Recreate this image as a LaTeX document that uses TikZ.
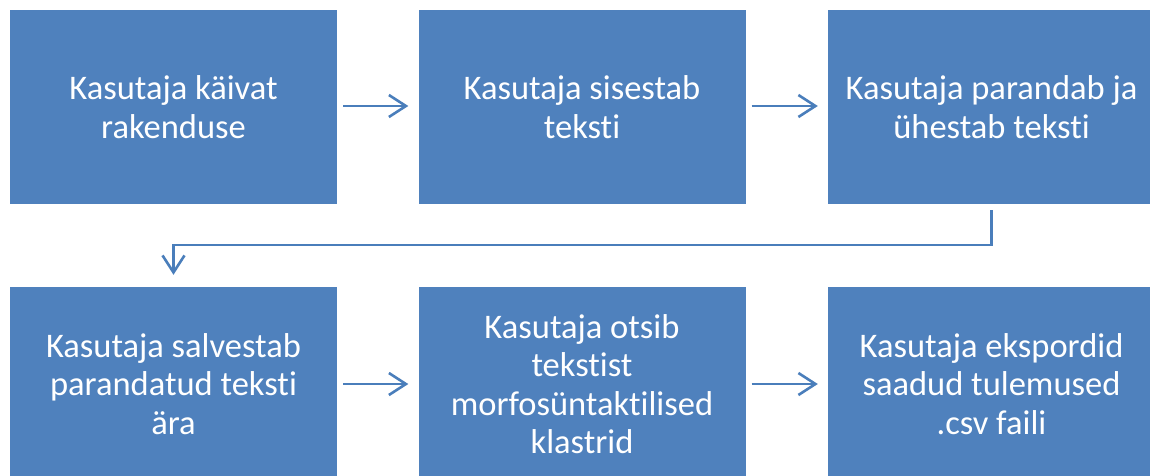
\documentclass[tikz,border=0pt]{standalone}
\usepackage{fontspec}
\setmainfont{Carlito}[Ligatures=NoCommon]
\usetikzlibrary{arrows.meta}
\definecolor{boxblue}{HTML}{4F81BD}
\definecolor{arrowblue}{HTML}{4A7EBB}
\tikzset{
  stepbox/.style={fill=boxblue, draw=none, minimum width=327pt, minimum height=194pt, inner sep=0pt,
    text=white, align=center, font=\fontsize{34.5}{38.5}\selectfont},
  flow/.style={draw=arrowblue, line width=2.6pt, -{Straight Barb[length=17pt,width=22pt,line width=2.6pt]}}
}
\begin{document}
\begin{tikzpicture}[x=1pt,y=-1pt]
\useasboundingbox (0,0) rectangle (1150,475);
\clip (0,0) rectangle (1150,475);
\node[stepbox] (b1) at (173.5,107) {Kasutaja käivat\\rakenduse};
\node[stepbox] (b2) at (582,107) {Kasutaja sisestab\\teksti};
\node[stepbox] (b3) at (991.5,107) {Kasutaja parandab ja\\ühestab teksti};
\node[stepbox] (b4) at (173.5,384) {Kasutaja salvestab\\parandatud teksti\\ära};
\node[stepbox] (b5) at (582,384) {Kasutaja otsib\\tekstist\\morfosüntaktilised\\klastrid};
\node[stepbox] (b6) at (991.5,384) {Kasutaja ekspordid\\saadud tulemused\\.csv faili};
\coordinate (e1) at (991.5,245);
\coordinate (e2) at (173.5,245);
\draw[flow] ([xshift=6pt,yshift=1pt]b1.east) -- ([xshift=-10pt,yshift=1pt]b2.west);
\draw[flow] ([xshift=6pt,yshift=1pt]b2.east) -- ([xshift=-10pt,yshift=1pt]b3.west);
\draw[flow] ([yshift=-6pt]b3.south) -- (e1) -- (e2) -- ([yshift=12pt]b4.north);
\draw[flow] ([xshift=6pt]b4.east) -- ([xshift=-10pt]b5.west);
\draw[flow] ([xshift=6pt]b5.east) -- ([xshift=-10pt]b6.west);
\end{tikzpicture}
\end{document}
